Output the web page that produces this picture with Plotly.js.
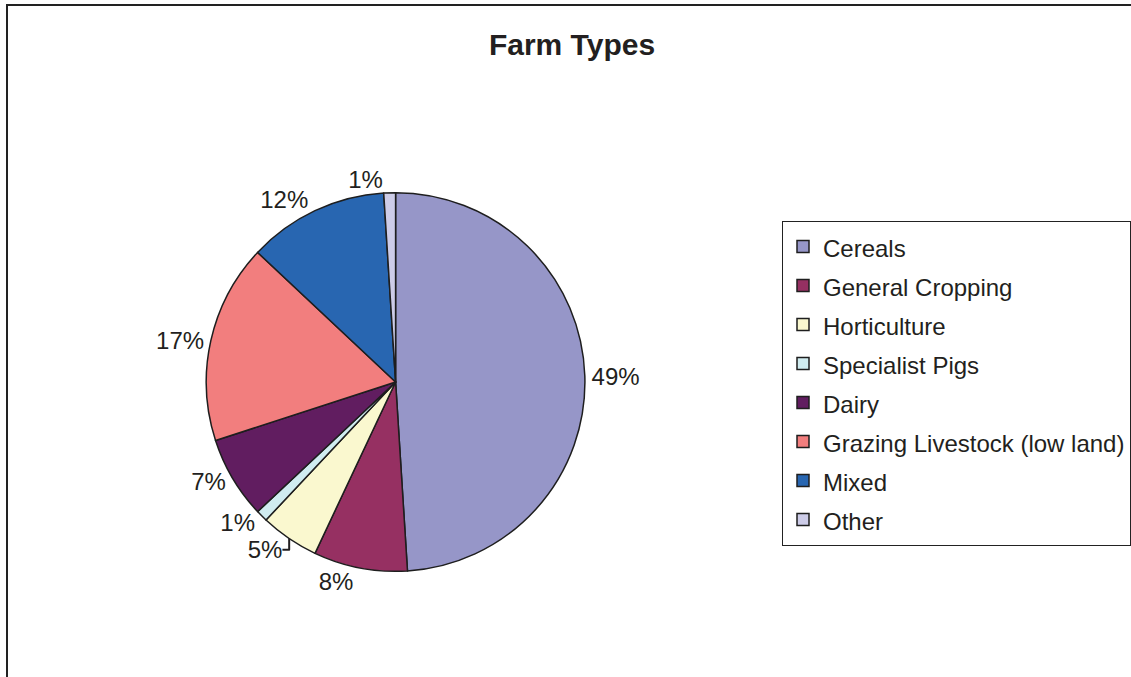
<!DOCTYPE html>
<html>
<head>
<meta charset="utf-8">
<script src="https://cdn.plot.ly/plotly-3.0.1.min.js"></script>
<style>
  html, body { margin: 0; padding: 0; background: #ffffff; }
  #wrap { position: relative; width: 1131px; height: 677px; overflow: hidden; }
  #chart { width: 1131px; height: 677px; }
  #frame { position: absolute; left: 6px; top: 4px; width: 1200px; height: 800px;
           border-top: 2px solid #222222; border-left: 2px solid #222222; pointer-events: none; }
</style>
</head>
<body>
<div id="wrap">
  <div id="chart"></div>
  <div id="frame"></div>
</div>
<script>
// ---- data ----
var categories = ["Cereals", "General Cropping", "Horticulture", "Specialist Pigs",
                  "Dairy", "Grazing Livestock (low land)", "Mixed", "Other"];
var sharePercent = [49, 8, 5, 1, 7, 17, 12, 1];
var sliceColors = ["#9696C8", "#963062", "#FAF8CF", "#D0ECF0",
                   "#611D60", "#F27E7E", "#2866B1", "#CDCCE8"];
var chartTitle = "Farm Types";

var FONT = "Liberation Sans, Arial, Helvetica, sans-serif";
var PIE_DOMAIN = { x: [207 / 1131, 587 / 1131], y: [105 / 677, 485 / 677] };

var legendLabels = categories.map(function (c) {
  return '<span style="font-size:24px">' + c + '</span>';
});

// the label of the last slice is drawn by a second, transparent copy of the pie,
// so that it is not pushed away (with a leader line) by its neighbour's label
var lastIdx = categories.length - 1;
var mainTemplates = categories.map(function (c, i) { return i === lastIdx ? "" : "%{value}%"; });
var lastTemplates = categories.map(function (c, i) { return i === lastIdx ? "%{value}%" : ""; });

var labelFont = { family: FONT, size: 24, color: "#231f20" };

var mainPie = {
  type: "pie",
  labels: legendLabels,
  values: sharePercent,
  sort: false,
  direction: "clockwise",
  rotation: 0,
  marker: { colors: sliceColors, line: { color: "#1e1e1e", width: 1.5 } },
  texttemplate: mainTemplates,
  textposition: "outside",
  textfont: labelFont,
  outsidetextfont: labelFont,
  hoverinfo: "none",
  domain: PIE_DOMAIN,
  showlegend: true
};

var labelPie = {
  type: "pie",
  labels: legendLabels,
  values: sharePercent,
  sort: false,
  direction: "clockwise",
  rotation: 0,
  marker: { colors: categories.map(function () { return "rgba(0,0,0,0)"; }),
            line: { color: "rgba(0,0,0,0)", width: 0 } },
  texttemplate: lastTemplates,
  textposition: "outside",
  textfont: labelFont,
  outsidetextfont: labelFont,
  hoverinfo: "none",
  domain: PIE_DOMAIN,
  showlegend: false
};

var layout = {
  width: 1131,
  height: 677,
  margin: { l: 0, r: 0, t: 0, b: 0 },
  paper_bgcolor: "#ffffff",
  plot_bgcolor: "#ffffff",
  font: { family: FONT, color: "#231f20" },
  title: {
    text: "<b>" + chartTitle + "</b>",
    font: { family: FONT, size: 30, color: "#231f20" },
    x: 572 / 1131, xanchor: "center",
    y: 1 - 44 / 677, yanchor: "middle"
  },
  legend: {
    x: 785 / 1131, xanchor: "left",
    y: 1 - 221 / 677, yanchor: "top",
    bgcolor: "#ffffff",
    bordercolor: "#222222",
    borderwidth: 1,
    font: { family: FONT, size: 27.7, color: "#231f20" },
    traceorder: "normal"
  },
  showlegend: true
};

Plotly.newPlot("chart", [mainPie, labelPie], layout, { staticPlot: true, displayModeBar: false });
</script>
</body>
</html>
